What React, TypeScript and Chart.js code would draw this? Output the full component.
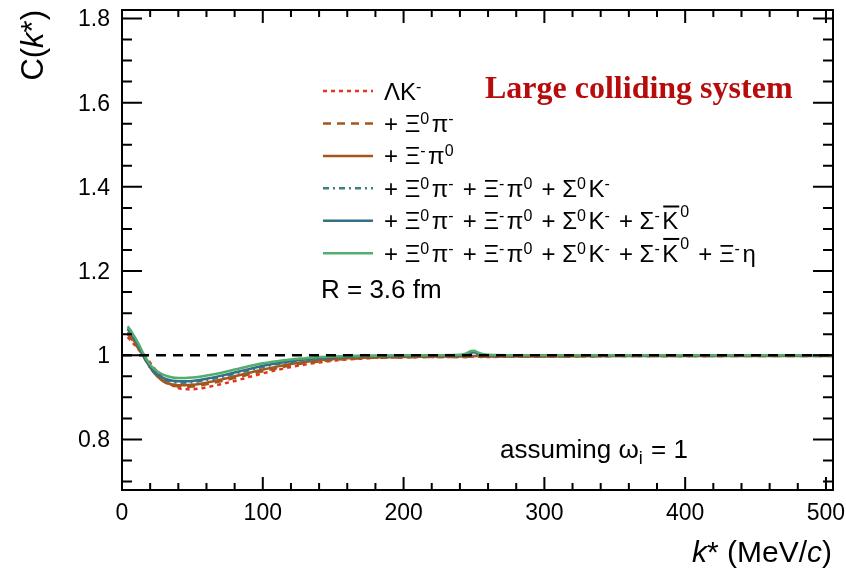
import { useEffect, useRef } from "react";
import { Chart, registerables } from "chart.js";

Chart.register(...registerables);

// ---------- data ----------
const kValues = [4, 6, 8, 10, 12, 15, 18, 21, 25, 30, 35, 40, 45, 50, 55, 60, 70, 80, 90, 100, 110, 120, 130, 140, 150, 160, 170, 180, 200, 220, 240, 244, 248, 250, 252, 256, 260, 280, 300, 350, 400, 450, 500, 505];

const cLambdaK = [1.043, 1.036, 1.028, 1.021, 1.013, 1.004, 0.992, 0.978, 0.961, 0.943, 0.930, 0.922, 0.919, 0.919, 0.921, 0.924, 0.931, 0.939, 0.948, 0.957, 0.965, 0.972, 0.978, 0.983, 0.987, 0.990, 0.992, 0.994, 0.995, 0.996, 0.996, 0.996, 0.997, 0.997, 0.997, 0.996, 0.996, 0.997, 0.997, 0.998, 0.998, 0.999, 0.999, 0.999];

const cXi0Pi = [1.050, 1.042, 1.033, 1.024, 1.014, 1.000, 0.985, 0.969, 0.952, 0.937, 0.929, 0.926, 0.925, 0.926, 0.928, 0.931, 0.938, 0.946, 0.954, 0.962, 0.969, 0.976, 0.981, 0.985, 0.989, 0.991, 0.993, 0.994, 0.995, 0.996, 0.996, 0.996, 0.997, 0.997, 0.997, 0.997, 0.997, 0.997, 0.997, 0.998, 0.998, 0.998, 0.998, 0.998];

const cXiMPi0 = [1.055, 1.047, 1.037, 1.027, 1.016, 0.999, 0.982, 0.966, 0.950, 0.937, 0.931, 0.929, 0.929, 0.930, 0.932, 0.935, 0.942, 0.950, 0.958, 0.966, 0.973, 0.979, 0.984, 0.988, 0.991, 0.993, 0.994, 0.995, 0.996, 0.997, 0.997, 0.997, 0.998, 0.998, 0.998, 0.997, 0.997, 0.997, 0.997, 0.998, 0.998, 0.998, 0.998, 0.998];

const cSigma0K = [1.062, 1.053, 1.042, 1.031, 1.019, 0.999, 0.981, 0.966, 0.952, 0.942, 0.937, 0.935, 0.935, 0.936, 0.938, 0.941, 0.948, 0.956, 0.964, 0.972, 0.979, 0.984, 0.988, 0.991, 0.994, 0.996, 0.997, 0.998, 0.998, 0.999, 0.999, 0.999, 1.000, 1.000, 1.000, 0.999, 0.999, 0.999, 0.999, 0.999, 0.999, 0.999, 0.999, 0.999];

const cSigmaMK0 = [1.064, 1.055, 1.044, 1.033, 1.021, 1.001, 0.983, 0.968, 0.955, 0.945, 0.940, 0.938, 0.938, 0.939, 0.941, 0.944, 0.951, 0.959, 0.967, 0.975, 0.981, 0.986, 0.990, 0.993, 0.995, 0.997, 0.998, 0.998, 0.999, 0.999, 1.000, 1.002, 1.006, 1.007, 1.005, 1.002, 1.000, 1.000, 1.000, 1.000, 1.000, 1.000, 1.000, 1.000];

const cXiEta = [1.069, 1.060, 1.049, 1.038, 1.026, 1.005, 0.988, 0.974, 0.962, 0.953, 0.948, 0.946, 0.946, 0.947, 0.949, 0.952, 0.958, 0.966, 0.974, 0.981, 0.986, 0.990, 0.993, 0.996, 0.997, 0.998, 0.999, 0.999, 1.000, 1.000, 1.001, 1.004, 1.010, 1.011, 1.008, 1.003, 1.001, 1.000, 1.000, 1.000, 1.000, 1.000, 1.000, 1.000];

const refLineX = [0, 505];
const refLineY = [1, 1];

const xMajorTicks = [0, 100, 200, 300, 400, 500];
const xTickLabels = ["0", "100", "200", "300", "400", "500"];
const yMajorTicks = [0.8, 1.0, 1.2, 1.4, 1.6, 1.8];
const yTickLabels = ["0.8", "1", "1.2", "1.4", "1.6", "1.8"];

type Seg = { t: string; sup?: boolean; sub?: boolean; italic?: boolean; over?: boolean; supHigh?: boolean };

const legendLabels: Seg[][] = [
  [{ t: "ΛK" }, { t: "-", sup: true }],
  [{ t: "+ Ξ" }, { t: "0", sup: true }, { t: "π" }, { t: "-", sup: true }],
  [{ t: "+ Ξ" }, { t: "-", sup: true }, { t: "π" }, { t: "0", sup: true }],
  [{ t: "+ Ξ" }, { t: "0", sup: true }, { t: "π" }, { t: "-", sup: true }, { t: " + Ξ" }, { t: "-", sup: true }, { t: "π" }, { t: "0", sup: true }, { t: " + Σ" }, { t: "0", sup: true }, { t: "K" }, { t: "-", sup: true }],
  [{ t: "+ Ξ" }, { t: "0", sup: true }, { t: "π" }, { t: "-", sup: true }, { t: " + Ξ" }, { t: "-", sup: true }, { t: "π" }, { t: "0", sup: true }, { t: " + Σ" }, { t: "0", sup: true }, { t: "K" }, { t: "-", sup: true }, { t: " + Σ" }, { t: "-", sup: true }, { t: "K", over: true }, { t: "0", supHigh: true }],
  [{ t: "+ Ξ" }, { t: "0", sup: true }, { t: "π" }, { t: "-", sup: true }, { t: " + Ξ" }, { t: "-", sup: true }, { t: "π" }, { t: "0", sup: true }, { t: " + Σ" }, { t: "0", sup: true }, { t: "K" }, { t: "-", sup: true }, { t: " + Σ" }, { t: "-", sup: true }, { t: "K", over: true }, { t: "0", supHigh: true }, { t: " + Ξ" }, { t: "-", sup: true }, { t: "η" }],
];

const seriesColors = ["#e8321f", "#a4561c", "#a4561c", "#3b7f8e", "#356f84", "#52ad6f"];
const seriesDash = [[4, 4], [8, 6], [], [6, 4, 2, 4], [], []];
const seriesValues = [cLambdaK, cXi0Pi, cXiMPi0, cSigma0K, cSigmaMK0, cXiEta];

const FONT = '"Liberation Sans", Arial, Helvetica, sans-serif';

function segFont(s: Seg, size: number) {
  const small = s.sup || s.sub || s.supHigh;
  const fs = small ? Math.round(size * 0.68) : size;
  return `${s.italic ? "italic " : ""}${fs}px ${FONT}`;
}

function drawRich(ctx: CanvasRenderingContext2D, segs: Seg[], x: number, y: number, size: number, gap = 1) {
  let cx = x;
  for (const s of segs) {
    const small = s.sup || s.sub || s.supHigh;
    ctx.font = segFont(s, size);
    let yy = y;
    if (s.sup) yy = y - size * 0.33;
    if (s.supHigh) yy = y - size * 0.52;
    if (s.sub) yy = y + size * 0.22;
    ctx.fillText(s.t, cx, yy);
    const w = ctx.measureText(s.t).width;
    if (s.over) {
      ctx.save();
      ctx.lineWidth = 2;
      ctx.beginPath();
      ctx.moveTo(cx + 1, y - size * 0.95);
      ctx.lineTo(cx + w + 1, y - size * 0.95);
      ctx.stroke();
      ctx.restore();
      cx += 2;
    }
    cx += w + (small ? gap : 0);
  }
  return cx - x;
}

function measureRich(ctx: CanvasRenderingContext2D, segs: Seg[], size: number, gap = 1) {
  let w = 0;
  for (const s of segs) {
    const small = s.sup || s.sub || s.supHigh;
    ctx.font = segFont(s, size);
    w += ctx.measureText(s.t).width + (small ? gap : 0) + (s.over ? 2 : 0);
  }
  return w;
}

const decorPlugin = {
  id: "decor",
  afterDraw(chart: any) {
    const ctx: CanvasRenderingContext2D = chart.ctx;
    const xs = chart.scales.x;
    const ys = chart.scales.y;
    const { left, right, top, bottom } = chart.chartArea;
    ctx.save();
    ctx.strokeStyle = "#000";
    ctx.fillStyle = "#000";
    ctx.lineWidth = 2;
    // frame
    ctx.strokeRect(left, top, right - left, bottom - top);
    // x ticks
    ctx.beginPath();
    for (let v = 0; v <= 500; v += 20) {
      const px = xs.getPixelForValue(v);
      const major = v % 100 === 0;
      const len = major ? 13 : 7;
      ctx.moveTo(px, bottom);
      ctx.lineTo(px, bottom - len);
      ctx.moveTo(px, top);
      ctx.lineTo(px, top + len);
    }
    // y ticks
    for (let i = 14; i <= 36; i++) {
      const v = i * 0.05;
      const py = ys.getPixelForValue(v);
      const major = i % 4 === 0;
      const len = major ? 20 : 10;
      ctx.moveTo(left, py);
      ctx.lineTo(left + len, py);
      ctx.moveTo(right, py);
      ctx.lineTo(right - len, py);
    }
    ctx.stroke();

    // tick labels
    ctx.font = `23px ${FONT}`;
    ctx.textBaseline = "alphabetic";
    ctx.textAlign = "center";
    xMajorTicks.forEach((v, i) => {
      ctx.fillText(xTickLabels[i], xs.getPixelForValue(v), 520);
    });
    ctx.textAlign = "right";
    yMajorTicks.forEach((v, i) => {
      ctx.fillText(yTickLabels[i], 110, ys.getPixelForValue(v) + 8);
    });

    // x title: k* (MeV/c)
    ctx.textAlign = "left";
    const xt: Seg[] = [{ t: "k", italic: true }, { t: "* (MeV/" }, { t: "c", italic: true }, { t: ")" }];
    const xtw = measureRich(ctx, xt, 30);
    drawRich(ctx, xt, 832 - xtw, 562, 30);

    // y title: C(k*)
    const yt: Seg[] = [{ t: "C(" }, { t: "k", italic: true }, { t: "*)" }];
    const ytw = measureRich(ctx, yt, 31);
    ctx.save();
    ctx.translate(43, 10 + ytw);
    ctx.rotate(-Math.PI / 2);
    drawRich(ctx, yt, 0, 0, 31);
    ctx.restore();

    // legend
    const base0 = 99.5;
    const step = 32.45;
    legendLabels.forEach((segs, i) => {
      const by = base0 + i * step;
      ctx.save();
      ctx.strokeStyle = seriesColors[i];
      ctx.lineWidth = 2.5;
      ctx.setLineDash(seriesDash[i]);
      ctx.beginPath();
      ctx.moveTo(323, by - 8.5);
      ctx.lineTo(373, by - 8.5);
      ctx.stroke();
      ctx.restore();
      drawRich(ctx, segs, 384, by, 24, 2.5);
    });

    // Large colliding system
    ctx.fillStyle = "#b80c0c";
    ctx.font = `bold 32px "Liberation Serif", "Times New Roman", serif`;
    ctx.fillText("Large colliding system", 485, 98);

    ctx.fillStyle = "#000";
    ctx.font = `26px ${FONT}`;
    ctx.fillText("R = 3.6 fm", 321, 298);

    drawRich(ctx, [{ t: "assuming ω" }, { t: "i", sub: true }, { t: " = 1" }], 500, 458, 26);

    ctx.restore();
  },
};

export default function App() {
  const ref = useRef<HTMLCanvasElement | null>(null);
  useEffect(() => {
    if (!ref.current) return;
    const datasets: any[] = seriesValues.map((vals, i) => ({
      label: "s" + i,
      data: kValues.map((k, j) => ({ x: k, y: vals[j] })),
      borderColor: seriesColors[i],
      borderWidth: 2.5,
      borderDash: seriesDash[i],
      pointRadius: 0,
      fill: false,
      cubicInterpolationMode: "monotone",
      order: 6 - i + 1,
    }));
    datasets.push({
      label: "ref",
      data: refLineX.map((x, j) => ({ x, y: refLineY[j] })),
      borderColor: "#000",
      borderWidth: 2.5,
      borderDash: [10, 7],
      pointRadius: 0,
      fill: false,
      order: 0,
    });
    const chart = new Chart(ref.current, {
      type: "line",
      data: { datasets },
      options: {
        responsive: false,
        maintainAspectRatio: false,
        animation: false,
        layout: { padding: { left: 122, right: 13, top: 10, bottom: 78 } },
        scales: {
          x: { type: "linear", min: 0, max: 505, display: false },
          y: { type: "linear", min: 0.68, max: 1.82, display: false },
        },
        plugins: { legend: { display: false }, tooltip: { enabled: false } },
      },
      plugins: [decorPlugin],
    } as any);
    return () => chart.destroy();
  }, []);
  return (
    <div style={{ position: "absolute", left: 0, top: 0, width: 846, height: 568, background: "#fff" }}>
      <canvas ref={ref} width={846} height={568} style={{ display: "block", width: 846, height: 568 }} />
    </div>
  );
}
